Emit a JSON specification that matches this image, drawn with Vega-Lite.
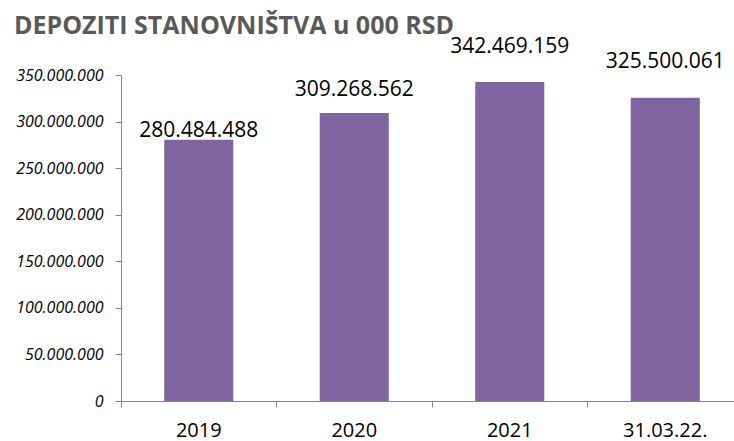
{
  "$schema": "https://vega.github.io/schema/vega-lite/v6.json",
  "width": 613,
  "height": 326,
  "autosize": "none",
  "padding": {"left": 121, "top": 75, "right": 0, "bottom": 40},
  "background": "white",
  "config": {
    "view": {"stroke": null},
    "font": "Open Sans",
    "locale": {"number": {"decimal": ",", "thousands": ".", "grouping": [3], "currency": ["", ""]}}
  },
  "title": {
    "text": "DEPOZITI STANOVNIŠTVA u 000 RSD",
    "anchor": "start",
    "frame": "group",
    "dx": -107,
    "dy": 28,
    "offset": 5,
    "baseline": "alphabetic",
    "fontSize": 25,
    "font": "Open Sans",
    "fontWeight": "bold",
    "color": "#595959"
  },
  "data": {
    "values": [
      {"period": "2019", "value": 280484488},
      {"period": "2020", "value": 309268562},
      {"period": "2021", "value": 342469159},
      {"period": "31.03.22.", "value": 325500061}
    ]
  },
  "encoding": {
    "x": {
      "field": "period",
      "type": "nominal",
      "sort": null,
      "scale": {"range": [0, 622], "paddingInner": 0.556, "paddingOuter": 0.278},
      "axis": {
        "title": null,
        "bandPosition": -0.626,
        "labelAngle": 0,
        "labelFontSize": 20,
        "labelFont": "Open Sans",
        "labelColor": "#000000",
        "labelPadding": 13,
        "domainColor": "#868686",
        "tickColor": "#868686",
        "tickSize": 6,
        "grid": false
      }
    },
    "y": {
      "field": "value",
      "type": "quantitative",
      "scale": {"domain": [0, 350000000], "nice": false},
      "axis": {
        "title": null,
        "grid": false,
        "values": [0, 50000000, 100000000, 150000000, 200000000, 250000000, 300000000, 350000000],
        "format": ",.0f",
        "labelFont": "Open Sans",
        "labelFontSize": 16,
        "labelFontStyle": "italic",
        "labelColor": "#000000",
        "labelPadding": 12,
        "domainColor": "#868686",
        "tickColor": "#868686",
        "tickSize": 6
      }
    }
  },
  "layer": [
    {"mark": {"type": "bar", "color": "#8064A2"}},
    {
      "transform": [{"filter": "datum.period == '2019'"}],
      "mark": {"type": "text", "baseline": "alphabetic", "dy": -3, "fontSize": 21, "font": "Open Sans", "color": "#000000"},
      "encoding": {"text": {"field": "value", "type": "quantitative", "format": ",.0f"}}
    },
    {
      "transform": [{"filter": "datum.period == '2020'"}],
      "mark": {"type": "text", "baseline": "alphabetic", "dy": -17, "fontSize": 21, "font": "Open Sans", "color": "#000000"},
      "encoding": {"text": {"field": "value", "type": "quantitative", "format": ",.0f"}}
    },
    {
      "transform": [{"filter": "datum.period == '2021'"}],
      "mark": {"type": "text", "baseline": "alphabetic", "dy": -29, "fontSize": 21, "font": "Open Sans", "color": "#000000"},
      "encoding": {"text": {"field": "value", "type": "quantitative", "format": ",.0f"}}
    },
    {
      "transform": [{"filter": "datum.period == '31.03.22.'"}],
      "mark": {"type": "text", "baseline": "alphabetic", "dy": -30, "fontSize": 21, "font": "Open Sans", "color": "#000000"},
      "encoding": {"text": {"field": "value", "type": "quantitative", "format": ",.0f"}}
    }
  ]
}
